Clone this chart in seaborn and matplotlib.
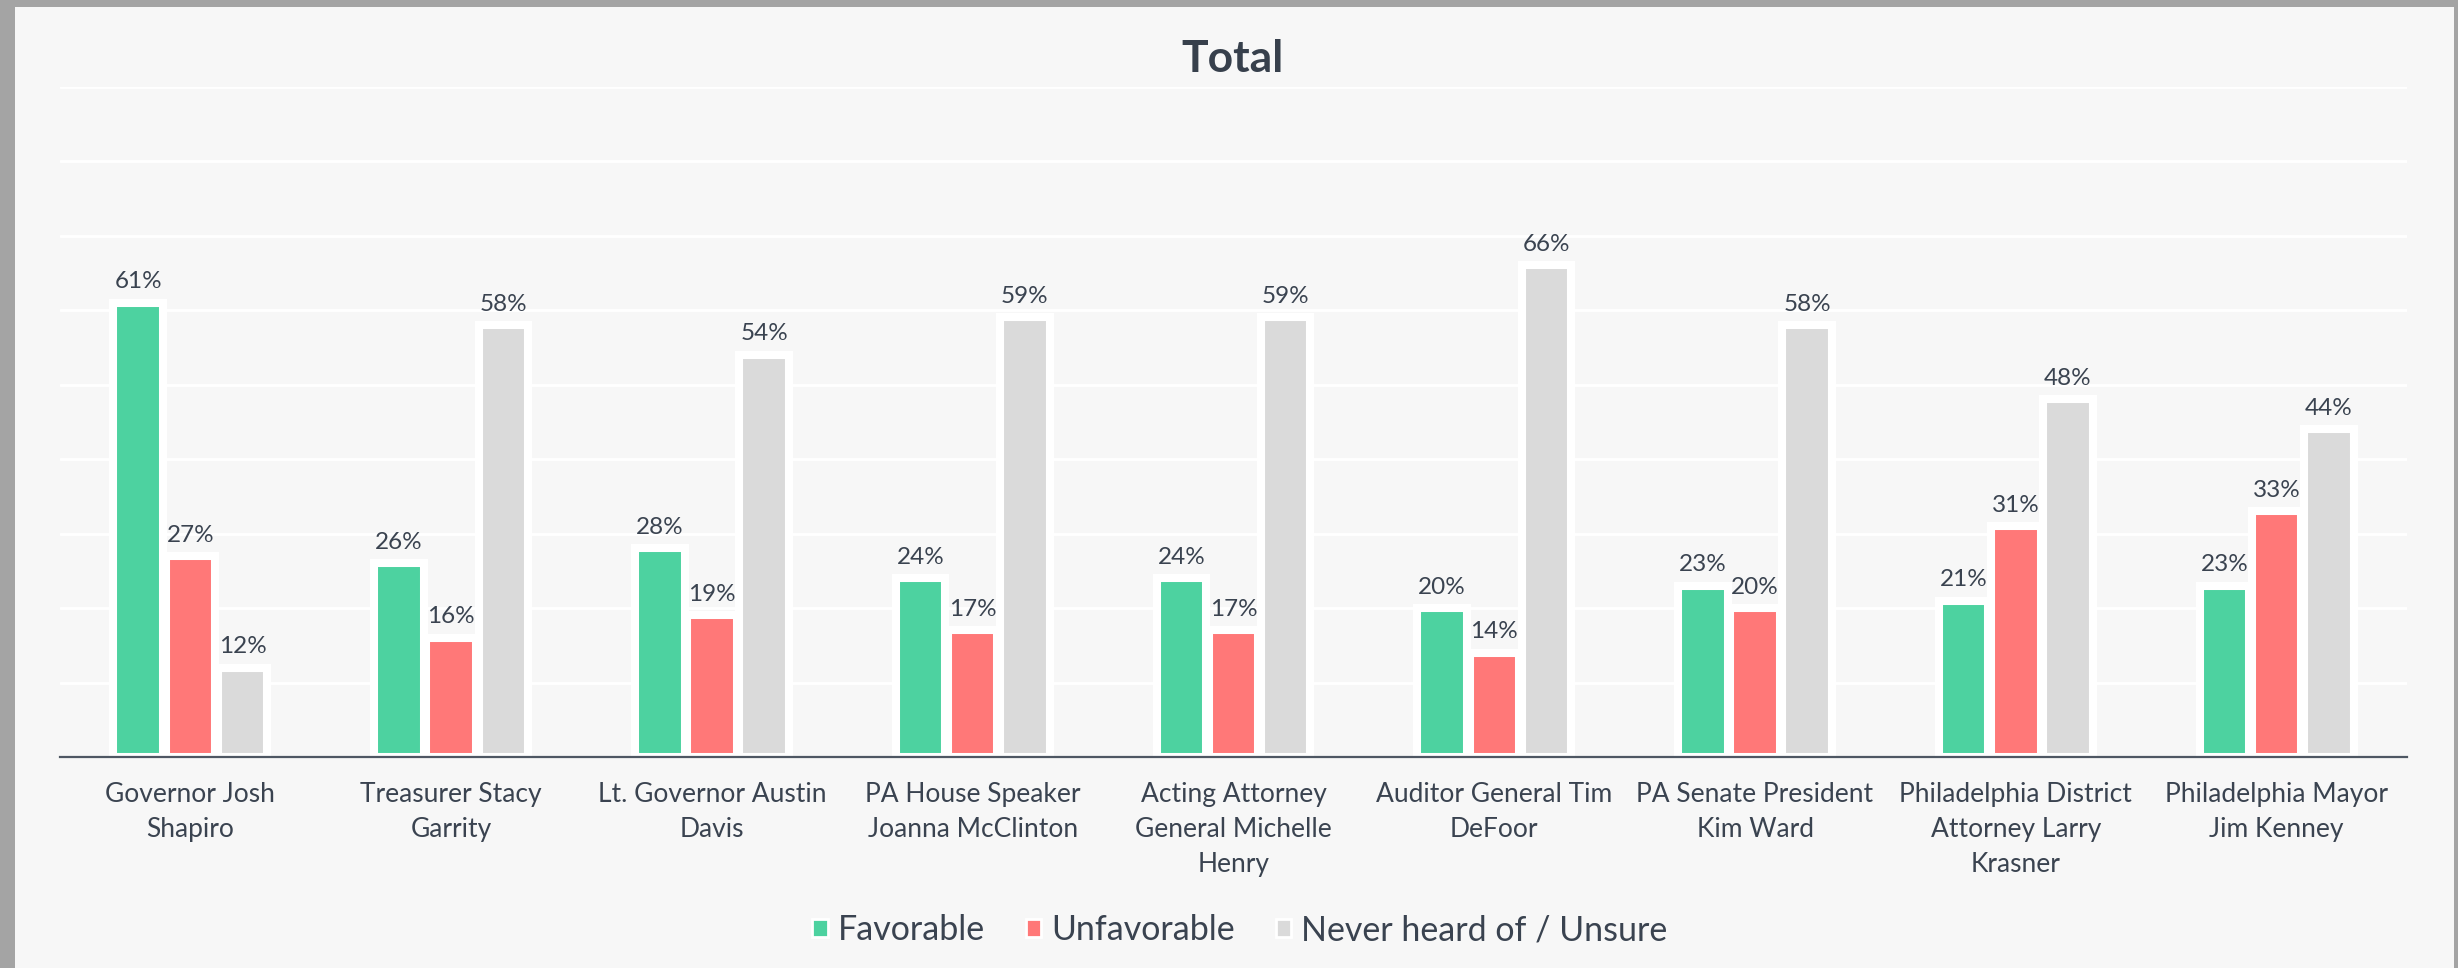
import numpy as np
import pandas as pd
import matplotlib.pyplot as plt
import seaborn as sns
from matplotlib.patches import Rectangle

# data
candidates = ["Governor Josh\nShapiro", "Treasurer Stacy\nGarrity", "Lt. Governor Austin\nDavis",
              "PA House Speaker\nJoanna McClinton", "Acting Attorney\nGeneral Michelle\nHenry",
              "Auditor General Tim\nDeFoor", "PA Senate President\nKim Ward",
              "Philadelphia District\nAttorney Larry\nKrasner", "Philadelphia Mayor\nJim Kenney"]
favorable = [61, 26, 28, 24, 24, 20, 23, 21, 23]
unfavorable = [27, 16, 19, 17, 17, 14, 20, 31, 33]
never_heard = [12, 58, 54, 59, 59, 66, 58, 48, 44]
series = ["Favorable", "Unfavorable", "Never heard of / Unsure"]
colors = ["#4DD2A0", "#FF7878", "#DADADA"]

df = pd.DataFrame({"candidate": candidates * 3,
                   "series": np.repeat(series, len(candidates)),
                   "value": favorable + unfavorable + never_heard})

sns.set_theme(style="white")
plt.rcParams['font.family'] = ['Lato', 'DejaVu Sans']
txt = "#3A4350"

W, H = 2458, 968
fig = plt.figure(figsize=(W / 100, H / 100), dpi=100)
fig.patch.set_facecolor("#A4A4A4")
fig.patches.append(Rectangle((15 / W, 0), (2454 - 15) / W, 1 - 7 / H, transform=fig.transFigure,
                             facecolor="#F7F7F7", edgecolor="none", zorder=-10))

ax = fig.add_axes([60 / W, 1 - 757 / H, (2407 - 60) / W, (757 - 86.5) / H])
ax.set_facecolor("#F7F7F7")

sns.barplot(data=df, x="candidate", y="value", hue="series", palette=dict(zip(series, colors)),
            saturation=1, width=0.6, gap=0.05, edgecolor="white", linewidth=5.8, ax=ax, zorder=3)

for cont in ax.containers:
    for bar in cont:
        h = bar.get_height()
        ax.annotate(f"{h:.0f}%", (bar.get_x() + bar.get_width() / 2, h), xytext=(0, 15),
                    textcoords="offset points", ha="center", va="center", fontsize=17.5,
                    color=txt, annotation_clip=False)

ax.set_ylim(0, 90)
ax.set_xlim(-0.5, len(candidates) - 0.5)
ax.set_yticks(np.arange(10, 91, 10))
ax.yaxis.grid(True, color="white", linewidth=2, zorder=0)
ax.set_yticklabels([])
ax.tick_params(axis="y", length=0)
ax.tick_params(axis="x", length=0, pad=18, labelsize=19, labelcolor=txt)
for lab in ax.get_xticklabels():
    lab.set_linespacing(1.5)
ax.set_xlabel("")
ax.set_ylabel("")
for s in ["top", "right", "left"]:
    ax.spines[s].set_visible(False)
ax.spines["bottom"].set_color("#4E5763")
ax.spines["bottom"].set_linewidth(1.6)
ax.spines["bottom"].set_zorder(5)

handles, labels = ax.get_legend_handles_labels()
ax.get_legend().remove()
leg = fig.legend(handles, labels, loc="center", bbox_to_anchor=(1240 / W, 1 - 930 / H), ncol=3,
                 frameon=False, fontsize=24.5, handlelength=0.45, handleheight=0.45,
                 handletextpad=0.3, columnspacing=1.2, labelcolor=txt)
for p in leg.get_patches():
    p.set_linewidth(2)

fig.text(1233 / W, 1 - 59 / H, "Total", ha="center", va="center", fontsize=32,
         fontweight="bold", color="#37404C")

fig.savefig("out.png", dpi=100, facecolor=fig.get_facecolor())
